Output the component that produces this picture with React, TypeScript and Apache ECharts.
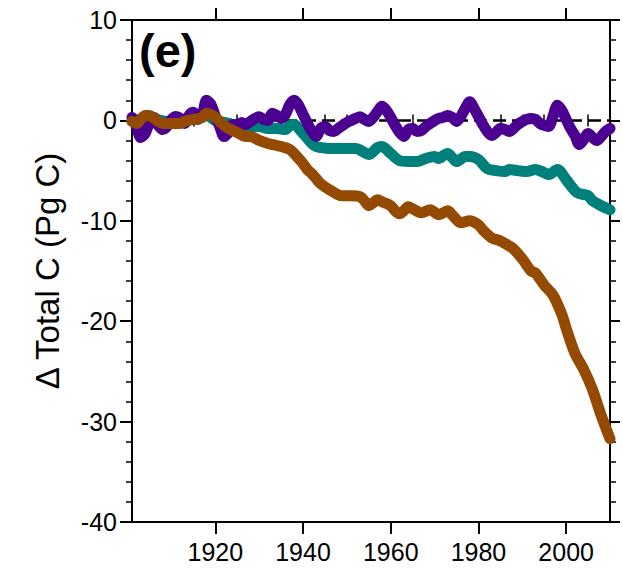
import React, { useEffect, useRef } from "react";
import * as echarts from "echarts";

// Readings: [year, ΔTotal C (Pg C)]
const purpleSeries: [number, number][] = [
  [1901, 0.3], [1902, -0.6], [1903, -1.7], [1904, -1.3], [1905, -0.2], [1906, 0.3], [1907, -0.5],
  [1908, -0.9], [1909, -0.6], [1910, 0.1], [1911, 0.4], [1912, 0.2], [1913, -0.3], [1914, 0.5],
  [1915, 0.8], [1916, 0.1], [1917, 0.5], [1918, 2.0], [1919, 1.6], [1920, 0.4], [1921, -0.6],
  [1922, -1.6], [1923, -1.2], [1924, -0.4], [1925, -0.8], [1926, -0.2], [1927, -0.4], [1928, -0.1],
  [1930, 0.36], [1931, 0.1], [1932, 0.0], [1933, 0.7], [1934, 0.5], [1935, 0.2], [1936, 0.6],
  [1937, 1.6], [1938, 2.0], [1939, 1.5], [1940, 0.6], [1941, -0.3], [1942, -1.1], [1943, -1.6],
  [1944, -0.8], [1945, -0.6], [1946, -1.0], [1947, -1.1], [1948, -0.8], [1949, -0.5], [1950, -0.2],
  [1951, 0.0], [1952, 0.2], [1953, 0.36], [1954, 0.1], [1955, -0.1], [1956, 0.3], [1957, 0.9],
  [1958, 1.4], [1959, 1.0], [1960, 0.3], [1961, -0.5], [1962, -1.2], [1963, -1.6], [1964, -0.9],
  [1965, -0.8], [1966, -1.1], [1967, -1.0], [1968, -0.6], [1969, -0.3], [1970, 0.0], [1971, 0.2],
  [1972, 0.3], [1973, 0.5], [1974, 0.3], [1975, -0.1], [1976, 0.4], [1977, 1.2], [1978, 1.85],
  [1979, 1.2], [1980, 0.4], [1981, -0.4], [1982, -1.1], [1983, -1.5], [1984, -1.2], [1985, -0.8],
  [1986, -0.9], [1987, -1.1], [1988, -0.8], [1989, -0.4], [1990, -0.1], [1991, 0.1], [1992, 0.2],
  [1993, 0.1], [1994, -0.3], [1995, -0.5], [1996, -0.6], [1997, 0.4], [1998, 1.5], [1999, 1.0],
  [2000, 0.1], [2001, -0.8], [2002, -1.5], [2003, -2.4], [2004, -1.9], [2005, -1.3], [2006, -1.7],
  [2007, -2.0], [2008, -1.6], [2009, -1.1], [2010, -0.8],
];

const tealSeries: [number, number][] = [
  [1901, 0.0], [1905, 0.2], [1910, -0.2], [1915, 0.2], [1918, 0.5], [1920, 0.0], [1923, -0.3],
  [1925, -0.6], [1928, -0.6], [1930, -0.6], [1932, -0.8], [1934, -0.8], [1936, -0.9], [1937, -0.5],
  [1938, -0.4], [1939, -0.8], [1940, -1.3], [1941, -1.8], [1942, -2.3], [1943, -2.6], [1944, -2.7],
  [1946, -2.8], [1948, -2.8], [1950, -2.8], [1952, -2.8], [1954, -3.2], [1955, -3.4], [1957, -2.7],
  [1958, -2.6], [1960, -3.3], [1962, -4.0], [1964, -4.1], [1966, -4.1], [1968, -3.8], [1970, -3.6],
  [1971, -3.8], [1972, -3.5], [1973, -3.3], [1974, -3.7], [1975, -4.1], [1977, -3.6], [1978, -3.6],
  [1980, -3.9], [1982, -4.8], [1984, -5.0], [1986, -5.1], [1987, -4.9], [1989, -5.0], [1991, -5.1],
  [1993, -4.9], [1995, -5.2], [1996, -5.4], [1998, -4.9], [2000, -5.9], [2002, -7.0], [2003, -7.3],
  [2005, -7.5], [2006, -8.0], [2008, -8.5], [2010, -8.9],
];

const brownSeries: [number, number][] = [
  [1901, -0.1], [1902, -0.3], [1903, 0.1], [1904, 0.5], [1905, 0.5], [1906, 0.2], [1908, -0.3],
  [1910, -0.3], [1912, -0.3], [1913, -0.1], [1915, 0.1], [1917, 0.3], [1918, 0.7], [1919, 0.6],
  [1920, 0.3], [1921, -0.1], [1922, -0.5], [1923, -0.8], [1925, -1.2], [1927, -1.6], [1928, -1.6],
  [1930, -2.0], [1932, -2.3], [1934, -2.5], [1935, -2.6], [1937, -2.9], [1939, -3.8], [1940, -4.3],
  [1941, -4.9], [1942, -5.3], [1943, -5.8], [1944, -6.3], [1946, -6.9], [1948, -7.4], [1949, -7.5],
  [1951, -7.5], [1953, -7.6], [1954, -8.0], [1955, -8.5], [1956, -8.2], [1957, -7.9], [1958, -8.1],
  [1960, -8.5], [1961, -9.0], [1962, -9.3], [1963, -9.0], [1964, -8.6], [1965, -8.8], [1967, -9.2],
  [1969, -8.9], [1971, -9.4], [1973, -9.0], [1974, -9.4], [1976, -10.2], [1978, -10.0], [1980, -10.4],
  [1981, -10.9], [1983, -11.7], [1985, -12.0], [1987, -12.5], [1988, -12.8], [1990, -13.8],
  [1992, -15.0], [1993, -15.2], [1995, -16.4], [1997, -17.4], [1999, -19.3], [2000, -20.7],
  [2002, -23.2], [2004, -24.8], [2006, -26.8], [2008, -29.4], [2010, -31.7],
];

const xMajorTicks = [1920, 1940, 1960, 1980, 2000];
const xMinorTicks = [
  1905, 1910, 1915, 1925, 1930, 1935, 1945, 1950, 1955, 1965, 1970, 1975, 1985, 1990, 1995, 2005,
];
const yMin = -40;
const yMax = 10;
const yInterval = 10;
const xMin = 1901;
const xMax = 2010;

const yTitle = "Δ Total C (Pg C)";
const panelLabel = "(e)";

const FONT = "Liberation Sans, Arial, Helvetica, sans-serif";

export default function App() {
  const ref = useRef<HTMLDivElement>(null);
  useEffect(() => {
    if (!ref.current) return;
    const chart = echarts.init(ref.current, undefined, { renderer: "svg" });
    const axisLine = { show: true, onZero: false, lineStyle: { color: "#000", width: 2 } };
    const xBase = { type: "value", min: xMin, max: xMax, splitLine: { show: false } };
    chart.setOption({
      animation: false,
      backgroundColor: "#fff",
      grid: { left: 132, right: 13, top: 20, bottom: 46, containLabel: false },
      xAxis: [
        {
          ...xBase,
          position: "bottom",
          axisLine,
          axisTick: { show: true, inside: false, length: 12, customValues: xMajorTicks, lineStyle: { color: "#000", width: 2 } },
          axisLabel: {
            show: true,
            customValues: xMajorTicks,
            formatter: (v: number) => String(v),
            fontSize: 25,
            fontFamily: FONT,
            color: "#000",
            margin: 17,
          },
        },
        {
          ...xBase,
          position: "bottom",
          axisLine: { show: false },
          axisTick: { show: true, inside: false, length: 6, customValues: xMinorTicks, lineStyle: { color: "#000", width: 1.5 } },
          axisLabel: { show: false },
        },
        {
          ...xBase,
          position: "top",
          axisLine,
          axisTick: { show: true, inside: false, length: 12, customValues: xMajorTicks, lineStyle: { color: "#000", width: 2 } },
          axisLabel: { show: false },
        },
        {
          ...xBase,
          position: "top",
          axisLine: { show: false },
          axisTick: { show: true, inside: false, length: 6, customValues: xMinorTicks, lineStyle: { color: "#000", width: 1.5 } },
          axisLabel: { show: false },
        },
      ],
      yAxis: [
        {
          type: "value",
          position: "left",
          min: yMin,
          max: yMax,
          interval: yInterval,
          axisLine,
          splitLine: { show: false },
          axisTick: { show: true, inside: false, length: 12, lineStyle: { color: "#000", width: 2 } },
          minorTick: { show: true, splitNumber: 5, length: 6, lineStyle: { color: "#000", width: 1.5 } },
          axisLabel: { fontSize: 25, fontFamily: FONT, color: "#000", margin: 15 },
          name: yTitle,
          nameLocation: "middle",
          nameRotate: 90,
          nameGap: 68,
          nameTextStyle: { fontSize: 33, fontFamily: FONT, color: "#000" },
        },
        {
          type: "value",
          position: "right",
          min: yMin,
          max: yMax,
          interval: yInterval,
          axisLine,
          splitLine: { show: false },
          axisTick: { show: true, inside: false, length: 10, lineStyle: { color: "#000", width: 2 } },
          minorTick: { show: true, splitNumber: 5, length: 6, lineStyle: { color: "#000", width: 1.5 } },
          axisLabel: { show: false },
        },
      ],
      graphic: [
        {
          type: "text",
          left: 139,
          top: 27,
          style: { text: panelLabel, font: `bold 47px ${FONT}`, fill: "#000" },
        },
      ],
      series: [
        {
          type: "line",
          data: [[xMin, 0], [xMax, 0]],
          symbol: "none",
          z: 1,
          lineStyle: { color: "#000", width: 2.5, type: [13, 6] },
          silent: true,
        },
        {
          type: "line",
          data: tealSeries,
          symbol: "none",
          smooth: 0.3,
          z: 2,
          lineStyle: { color: "#00807a", width: 11, cap: "round", join: "round" },
        },
        {
          type: "line",
          data: purpleSeries,
          symbol: "none",
          smooth: 0.3,
          z: 3,
          lineStyle: { color: "#4b0092", width: 11, cap: "round", join: "round" },
        },
        {
          type: "line",
          data: brownSeries,
          symbol: "none",
          smooth: 0.3,
          z: 4,
          lineStyle: { color: "#944a00", width: 11, cap: "round", join: "round" },
        },
      ],
    });
    return () => chart.dispose();
  }, []);
  return (
    <div
      ref={ref}
      style={{ position: "absolute", left: 0, top: 0, width: 623, height: 568, background: "#fff" }}
    />
  );
}
